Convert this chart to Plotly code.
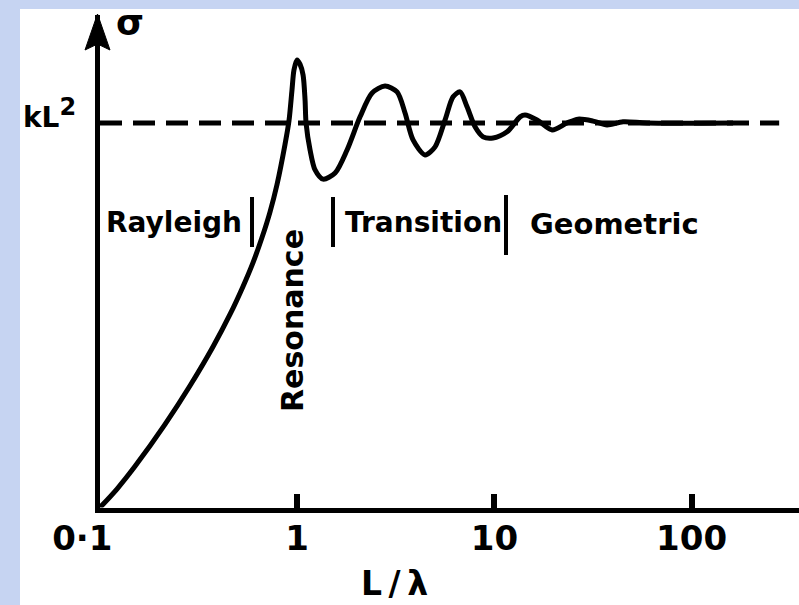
import math
import plotly.graph_objects as go

# Scattering cross-section, normalised to its geometric limit kL^2,
# against the size parameter L/lambda
L_LAMBDA = [0.1, 0.1219, 0.1505, 0.2136, 0.286, 0.3741, 0.4561, 0.5312, 0.597,
            0.663, 0.7283, 0.7901, 0.8672, 0.9087, 0.941, 0.963, 0.998, 1.033,
            1.071, 1.096, 1.109, 1.162, 1.232, 1.352, 1.556, 1.79, 2.083, 2.398,
            2.789, 3.209, 3.523, 3.868, 4.45, 5.002, 5.622, 6.173, 6.698, 7.266,
            7.978, 8.76, 9.848, 11.6, 13.49, 14.3, 16.45, 19.61, 23.35, 26.56,
            31.64, 37.26, 44.91, 59.44, 162.3]
SIGMA = [0, 0.048, 0.107, 0.216, 0.3165, 0.418, 0.502, 0.575, 0.637,
         0.702, 0.769, 0.84, 0.944, 1.006, 1.086, 1.138, 1.164, 1.153,
         1.125, 1.06, 1.0, 0.93, 0.878, 0.854, 0.87, 0.93, 1.016, 1.078,
         1.096, 1.081, 1.026, 0.956, 0.917, 0.938, 1.008, 1.068, 1.081, 1.042,
         0.99, 0.964, 0.961, 0.977, 1.016, 1.021, 1.008, 0.982, 1.0, 1.01,
         1.005, 0.995, 1.003, 1.0, 1.0]

# Geometric-limit reference level
LIMIT_LEVEL = 1.0
LIMIT_X = [0.1, 278]

# Scattering regimes
REGIMES = ["Rayleigh", "Resonance", "Transition", "Geometric"]
REGIME_X = [0.236, 0.941, 4.35, 40.6]
REGIME_Y = [0.7425, 0.4876, 0.7425, 0.737]
REGIME_SIZE = [28, 30, 28, 29]
BOUNDARY_X = [0.59, 1.519, 11.45]
BOUNDARY_LO = [0.6775, 0.6775, 0.6567]
BOUNDARY_HI = [0.8075, 0.8075, 0.8127]

# Axis ticks
TICK_VALS = [0.1, 1, 10, 100]
TICK_TEXT = ["0·1\u00a0\u00a0\u00a0", "1", "10", "100"]

W, H = 799, 605
PL, PB, PT = 100.0, 507.5, 15.0          # plot-area edges in px
DECADE = 197.2                            # px per decade
SIG_UNIT = (PB - 123.0)                   # px per unit of sigma
X_RANGE = [-1.0, -1.0 + (W - PL) / DECADE]
Y_RANGE = [0.0, (PB - PT) / SIG_UNIT]

FONT = "DejaVu Sans"


def px(x):
    return x / W


def py(y):
    return 1 - y / H


fig = go.Figure()

# dashed limit line
fig.add_trace(go.Scatter(
    x=LIMIT_X, y=[LIMIT_LEVEL, LIMIT_LEVEL], mode="lines",
    line=dict(color="black", width=5, dash="22px,11px"),
    hoverinfo="skip", showlegend=False))

# cross-section curve
fig.add_trace(go.Scatter(
    x=L_LAMBDA, y=SIGMA, mode="lines",
    line=dict(color="black", width=5, shape="spline", smoothing=0.8),
    showlegend=False))

# regime boundary bars
bx, by = [], []
for x, lo, hi in zip(BOUNDARY_X, BOUNDARY_LO, BOUNDARY_HI):
    bx += [x, x, None]
    by += [lo, hi, None]
fig.add_trace(go.Scatter(
    x=bx, y=by, mode="lines", line=dict(color="black", width=4),
    hoverinfo="skip", showlegend=False))

bold = lambda s: dict(family=FONT, size=s, color="black", weight="bold")

annotations = []
for name, x, y, s in zip(REGIMES, REGIME_X, REGIME_Y, REGIME_SIZE):
    annotations.append(dict(
        x=math.log10(x), y=y, xref="x", yref="y", text=name,
        showarrow=False, font=bold(s),
        textangle=-90 if name == "Resonance" else 0,
        xanchor="center", yanchor="middle"))

annotations += [
    dict(x=px(21), y=py(113), xref="paper", yref="paper",
         text="kL<sup><span style='font-size:24px'>2</span></sup>",
         showarrow=False, font=bold(28),
         xanchor="left", yanchor="middle"),
    dict(x=px(130), y=py(22), xref="paper", yref="paper", text="σ",
         showarrow=False, font=bold(36), xanchor="center", yanchor="middle"),
    dict(x=px(394), y=py(583), xref="paper", yref="paper",
         text="L\u2009/\u2009λ",
         showarrow=False, font=bold(33), xanchor="center", yanchor="middle"),
]

shapes = [
    # page background panel
    dict(type="rect", xref="paper", yref="paper", x0=px(20), x1=1.0,
         y0=0.0, y1=py(9), fillcolor="white", line=dict(width=0),
         layer="below"),
    # arrowhead on the sigma axis
    dict(type="path", xref="paper", yref="paper",
         path=(f"M {px(97.5)},{py(14)} L {px(110)},{py(50)} "
               f"L {px(97.5)},{py(44)} L {px(85)},{py(50)} Z"),
         fillcolor="black", line=dict(color="black", width=1)),
]

fig.update_layout(
    width=W, height=H,
    margin=dict(l=0, r=0, t=0, b=0, pad=0),
    paper_bgcolor="#c6d4f2",
    plot_bgcolor="rgba(0,0,0,0)",
    showlegend=False,
    annotations=annotations,
    shapes=shapes,
    xaxis=dict(
        type="log", range=X_RANGE, domain=[PL / W, 1.0],
        automargin=False,
        showgrid=False, zeroline=False,
        showline=True, linecolor="black", linewidth=5,
        ticks="inside", ticklen=14, tickwidth=6, tickcolor="black",
        tickvals=TICK_VALS, ticktext=TICK_TEXT,
        tickfont=bold(34), ticklabelstandoff=-3,
    ),
    yaxis=dict(
        range=Y_RANGE, domain=[1 - PB / H, 1 - PT / H],
        automargin=False,
        showgrid=False, zeroline=False,
        showline=True, linecolor="black", linewidth=5,
        ticks="", showticklabels=False,
    ),
)

fig.write_html("out.html")
